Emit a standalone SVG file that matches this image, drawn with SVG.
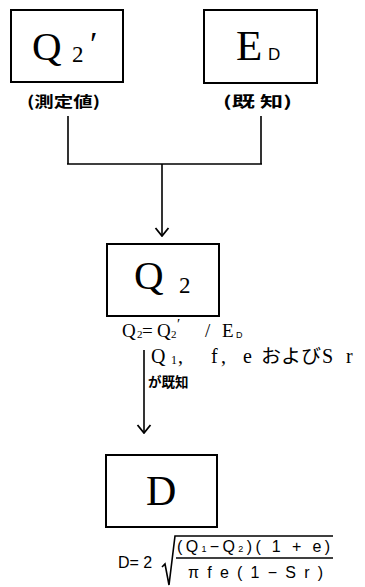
<svg xmlns="http://www.w3.org/2000/svg" width="365" height="587" viewBox="0 0 365 587">
<style>
.box{fill:#fff;stroke:#000;stroke-width:2}
.ln{fill:none;stroke:#000;stroke-width:1.6}
.s{font-family:"Liberation Serif","Noto Sans CJK JP",serif;fill:#000}
.g{font-family:"Liberation Sans","Noto Sans CJK JP",sans-serif;fill:#000}
.j{font-family:"Noto Sans CJK JP",sans-serif;fill:#000;font-weight:bold}
</style>
<defs>
<marker id="ah" viewBox="0 0 10 16" refX="9" refY="8" markerWidth="10" markerHeight="16" markerUnits="userSpaceOnUse" orient="auto">
<path d="M1,1.5 L9,8 L1,14.5" fill="none" stroke="#000" stroke-width="1.8"/>
</marker>
</defs>
<rect width="365" height="587" fill="#fff"/>
<g id="connectors">
<path class="ln" d="M68,116 V164 M261,116 V164 M67,164 H262"/>
<path class="ln" d="M162,164 V236" marker-end="url(#ah)"/>
<path class="ln" d="M144,350 V433" marker-end="url(#ah)"/>
</g>
<g id="node-q2prime">
<rect class="box" x="11" y="10" width="112" height="72"/>
<text class="s" x="32" y="60" font-size="41">Q</text>
<text class="s" x="72" y="62" font-size="23">2</text>
<text class="s" x="90" y="55" font-size="34">′</text>
<text class="j" x="27" y="107" font-size="15" textLength="73" lengthAdjust="spacingAndGlyphs">(測定値)</text>
</g>
<g id="node-ed">
<rect class="box" x="204" y="10" width="113" height="73"/>
<text class="s" x="236" y="60" font-size="43">E</text>
<text class="g" x="268" y="60" font-size="17">D</text>
<text class="j" x="223" y="107" font-size="15" textLength="69" lengthAdjust="spacingAndGlyphs">(既 知)</text>
</g>
<g id="node-q2">
<rect class="box" x="107" y="244" width="112" height="72"/>
<text class="s" x="134" y="289" font-size="41">Q</text>
<text class="s" x="179" y="293" font-size="23">2</text>
<text class="s" y="337" font-size="19"><tspan x="122">Q</tspan><tspan x="137" font-size="11" dy="1">2</tspan><tspan x="142" dy="-1">=</tspan><tspan x="157">Q</tspan><tspan x="171" font-size="11" dy="1">2</tspan><tspan x="177" font-size="15" dy="-9">′</tspan><tspan x="205" dy="8">/</tspan><tspan x="222">E</tspan><tspan x="236" class="g" font-size="9" dy="1">D</tspan></text>
<text class="s" y="363" font-size="20"><tspan x="151">Q</tspan><tspan x="171" font-size="12" dy="1">1</tspan><tspan x="178" dy="-1">,</tspan><tspan x="211">f</tspan><tspan x="221">,</tspan><tspan x="243">e</tspan><tspan x="261" class="g" font-size="19" textLength="60" lengthAdjust="spacingAndGlyphs">および</tspan><tspan x="322">S</tspan><tspan x="346">r</tspan></text>
<text class="j" x="148" y="387" font-size="13.5">が既知</text>
</g>
<g id="node-d">
<rect class="box" x="106" y="455" width="111" height="72"/>
<text class="s" x="146" y="505" font-size="42">D</text>
<text class="g" x="118" y="568" font-size="16">D= 2</text>
<path class="ln" d="M162,567 L165,564 L169,585 L175,536 H333"/>
<text class="g" x="177" y="552" font-size="16" textLength="153" lengthAdjust="spacing">(Q<tspan font-size="9">1</tspan>−Q<tspan font-size="9">2</tspan>)( 1 + e)</text>
<path class="ln" d="M176,558 H333"/>
<text class="g" x="188" y="578" font-size="16" textLength="135" lengthAdjust="spacing">π f e ( 1 − S r )</text>
</g>
</svg>
